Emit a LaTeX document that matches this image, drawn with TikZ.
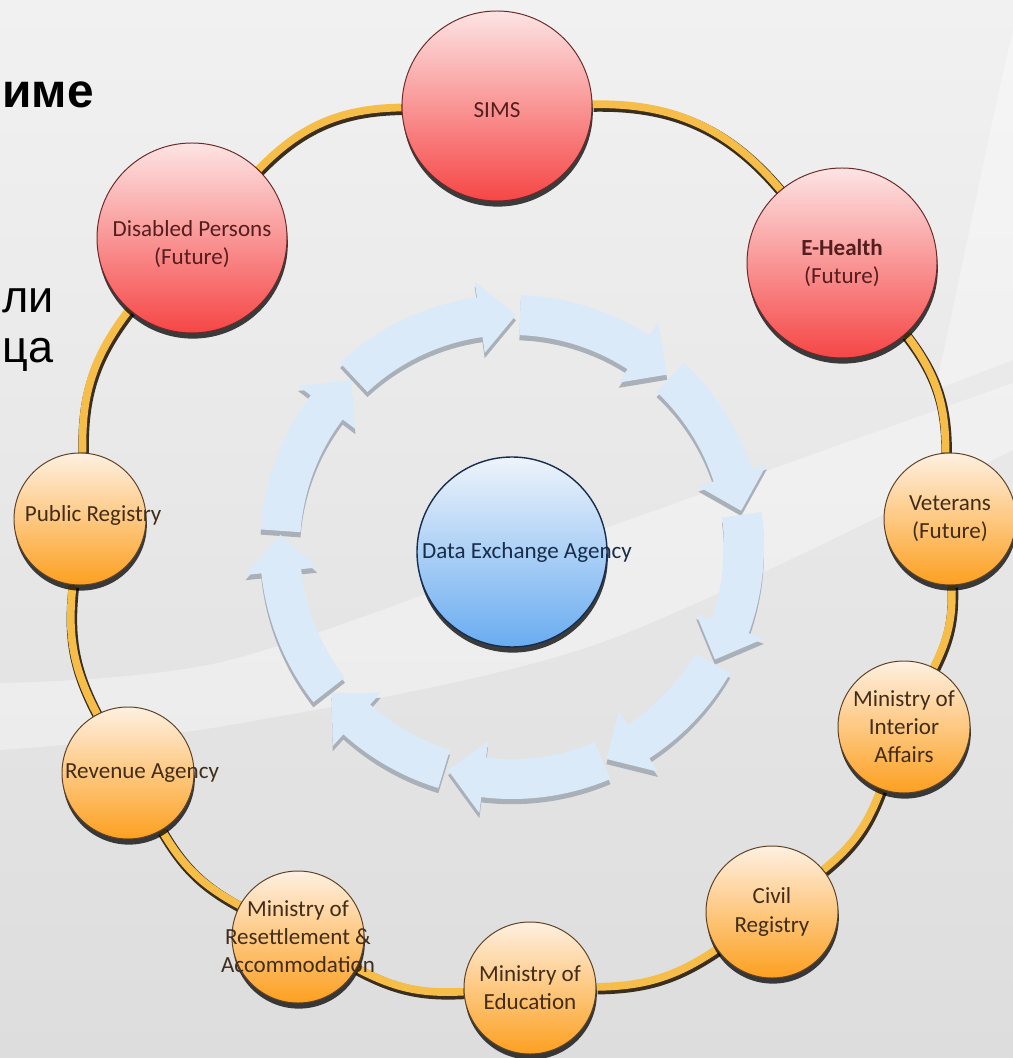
\documentclass[tikz,border=0pt]{standalone}
\usepackage{fontspec}
\setmainfont{Carlito}
\newfontfamily\slidefont{Liberation Sans}
\usetikzlibrary{shadows}

\definecolor{bgtop}{RGB}{241,241,241}
\definecolor{bgbottom}{RGB}{221,221,221}
\definecolor{ringblue}{RGB}{219,234,248}
\definecolor{ringshade}{RGB}{170,176,184}
\definecolor{linkgold}{RGB}{246,190,72}
\definecolor{linkdark}{RGB}{58,46,30}
\definecolor{redtop}{RGB}{253,228,228}
\definecolor{redbottom}{RGB}{246,70,70}
\definecolor{redline}{RGB}{110,40,40}
\definecolor{redtext}{RGB}{85,30,30}
\definecolor{orangetop}{RGB}{254,240,225}
\definecolor{orangebottom}{RGB}{253,160,32}
\definecolor{orangeline}{RGB}{95,65,35}
\definecolor{orangetext}{RGB}{65,45,25}
\definecolor{bluetop}{RGB}{238,244,251}
\definecolor{bluebottom}{RGB}{105,172,240}
\definecolor{blueline}{RGB}{22,45,80}
\definecolor{bluetext}{RGB}{25,45,75}

\pgfdeclarelayer{background}
\pgfdeclarelayer{links}
\pgfsetlayers{background,links,main}

\newcommand{\flowarrow}[3]{
    \pgfmathsetmacro{\neck}{#2+9}
    \fill[#3] (#1:6.3) arc[start angle=#1, end angle=\neck, radius=6.3]
        -- (\neck:6.7) -- (#2:5.8) -- (\neck:4.9) -- (\neck:5.3)
        arc[start angle=\neck, end angle=#1, radius=5.3] -- cycle;
}

\tikzset{
    smallnode/.style={circle, minimum size=3.3cm, inner sep=0pt,
        top color=orangetop, bottom color=orangebottom,
        draw=orangeline, line width=0.7pt,
        drop shadow={shadow xshift=0.6pt, shadow yshift=-4pt, opacity=0.75, fill=black}},
    bignode/.style={smallnode, minimum size=4.75cm,
        top color=redtop, bottom color=redbottom, draw=redline},
    hubnode/.style={smallnode, minimum size=4.75cm,
        top color=bluetop, bottom color=bluebottom, draw=blueline, line width=1pt},
    orangetag/.style={align=center, inner sep=0pt, text=orangetext,
        font=\fontsize{16.4}{20}\selectfont},
    redtag/.style={orangetag, text=redtext},
    bluetag/.style={orangetag, text=bluetext},
    slidetext/.style={anchor=base west, inner sep=0pt, text=black},
    link/.style={draw=linkgold, line width=5.5pt,
        preaction={draw=linkdark, line width=7.5pt,
            transform canvas={shift={(0.8pt,-1.6pt)}}}}
}

\begin{document}
\begin{tikzpicture}
    \useasboundingbox (-12.8,-12.775) rectangle (12.525,13.675);
    \clip (-12.8,-12.775) rectangle (12.525,13.675);

    \begin{pgfonlayer}{background}
        \shade[top color=bgtop, bottom color=bgbottom] (-12.8,-12.775) rectangle (12.525,13.675);
        \fill[white, opacity=0.35]
            plot[smooth] coordinates {(-12.8,-3.4) (-7.05,-2.825) (2.2,0.425) (12.525,4.1)}
            -- plot[smooth] coordinates {(12.525,2.425) (2.2,-2.4) (-7.05,-4.45) (-12.8,-5.075)}
            -- cycle;
        \fill[white, opacity=0.35] (12.525,12.925) .. controls (11.825,9.925) and (11.2,6.675)
            .. (10.575,3.925) -- (12.525,4.675) -- cycle;
    \end{pgfonlayer}

    \node[slidetext, font=\slidefont\bfseries\fontsize{34}{40}\selectfont] (headword) at (-12.75,10.975) {име};
    \node[slidetext, font=\slidefont\fontsize{32}{38}\selectfont] (wordli) at (-12.75,5.85) {ли};
    \node[slidetext, font=\slidefont\fontsize{32}{38}\selectfont] (wordca) at (-12.75,4.6) {ца};

    \begin{scope}[yshift=-0.13cm]
        \foreach \s/\e in {133/89, 88/48, 47/9, 8/-29, -30/-66, -67/-106, -107/-141, -142/-183, -184/-226} {
            \flowarrow{\s}{\e}{ringshade}
        }
    \end{scope}
    \foreach \s/\e in {133/89, 88/48, 47/9, 8/-29, -30/-66, -67/-106, -107/-141, -142/-183, -184/-226} {
        \flowarrow{\s}{\e}{ringblue}
    }

    \node[hubnode] (hub) at (0,-0.125) {};
    \node[bluetag] (hubtag) at (0.375,-0.125) {Data Exchange Agency};

    \node[bignode] (sims) at (-0.375,11.025) {};
    \node[bignode] (ehealth) at (8.25,7.1) {};
    \node[bignode] (disabled) at (-8.0,7.725) {};
    \node[smallnode] (veterans) at (10.95,0.7) {};
    \node[smallnode] (interior) at (9.8,-4.5) {};
    \node[smallnode] (civil) at (6.5,-9.125) {};
    \node[smallnode] (education) at (0.45,-11.025) {};
    \node[smallnode] (resettle) at (-5.35,-9.75) {};
    \node[smallnode] (revenue) at (-9.6,-5.65) {};
    \node[smallnode] (public) at (-10.8,0.7) {};

    \node[redtag] (simstag) at ([yshift=-0.1cm]sims) {SIMS};
    \node[redtag] (ehealthtag) at (ehealth) {\textbf{E-Health}\\(Future)};
    \node[redtag] (disabledtag) at ([yshift=-0.15cm]disabled) {Disabled Persons\\(Future)};
    \node[orangetag] (veteranstag) at (veterans) {Veterans\\(Future)};
    \node[orangetag] (interiortag) at (interior) {Ministry of\\Interior\\Affairs};
    \node[orangetag] (civiltag) at (civil) {Civil\\Registry};
    \node[orangetag] (educationtag) at (education) {Ministry of\\Education};
    \node[orangetag] (resettletag) at (resettle) {Ministry of\\Resettlement \&\\Accommodation};
    \node[orangetag] (revenuetag) at (-9.25,-5.65) {Revenue Agency};
    \node[orangetag] (publictag) at (-10.47,0.8) {Public Registry};

    \begin{pgfonlayer}{links}
        \foreach \a/\b/\k in {sims/ehealth/25.5, ehealth/veterans/19, veterans/interior/14,
            interior/civil/15, civil/education/16.5, education/resettle/15.5,
            resettle/revenue/15.5, revenue/public/17, public/disabled/19.5, disabled/sims/22.5} {
            \draw[link] (\a) to[bend left=\k] (\b);
        }
    \end{pgfonlayer}
\end{tikzpicture}
\end{document}
